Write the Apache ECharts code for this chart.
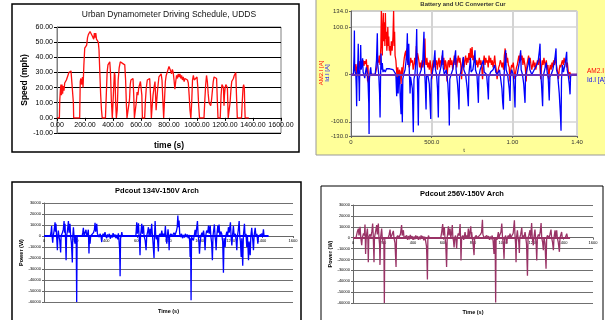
<!DOCTYPE html>
<html><head><meta charset="utf-8">
<script src="https://cdn.jsdelivr.net/npm/echarts@6/dist/echarts.min.js"></script>
<style>html,body{margin:0;padding:0;background:#fff}#c{width:605px;height:320px}</style>
</head><body><div id="c"></div>
<script>
// ---- Chart 1: UDDS speed profile [time s, speed mph]
const speedProfile = [[0,0],[17,0],[20,12],[24,18],[28,22],[32,15],[36,22],[40,16],[45,21],[50,18],[55,23],[60,24],[67,25],[72,25],[78,28],[85,30],[92,30],[100,31],[107,32],[112,30],[114,32],[117,10],[119,0],[162,0],[166,24],[170,26],[175,22],[182,27],[186,20],[192,35],[198,46],[205,47],[212,48],[218,53],[224,55],[230,56],[236,57],[241,56],[246,57],[252,54],[258,55],[262,52],[267,56],[272,53],[277,56],[282,52],[288,51],[295,50],[300,45],[306,30],[312,15],[318,5],[323,0],[346,0],[352,15],[358,30],[364,35],[370,36],[377,37],[382,30],[388,12],[395,0],[400,0],[405,20],[410,30],[414,28],[419,10],[424,0],[430,5],[437,25],[444,33],[452,37],[460,36],[468,36],[476,36],[484,35],[490,25],[496,8],[500,0],[512,0],[518,12],[523,22],[528,25],[536,24],[543,26],[548,15],[553,0],[560,0],[566,10],[572,17],[578,15],[584,20],[590,19],[596,24],[602,25],[606,15],[610,0],[626,0],[632,12],[638,20],[645,25],[652,26],[662,26],[668,15],[674,0],[680,8],[686,15],[693,20],[700,24],[704,15],[708,5],[713,12],[720,20],[728,27],[736,28],[744,29],[750,25],[756,12],[762,0],[768,12],[774,24],[780,28],[786,27],[792,29],[800,34],[806,33],[812,31],[818,29],[824,32],[830,30],[836,25],[842,19],[848,24],[854,28],[860,26],[866,29],[872,27],[878,29],[884,26],[890,28],[896,25],[902,27],[908,24],[914,26],[920,25],[926,27],[932,25],[938,23],[944,15],[950,5],[956,0],[962,10],[968,25],[974,28],[980,25],[986,26],[993,24],[1000,27],[1006,20],[1012,8],[1018,0],[1050,0],[1056,12],[1062,22],[1068,28],[1074,24],[1080,16],[1086,10],[1092,9],[1098,8],[1104,12],[1110,18],[1116,24],[1122,27],[1128,28],[1134,26],[1140,26],[1145,12],[1150,0],[1166,0],[1172,15],[1178,22],[1184,21],[1189,20],[1193,8],[1196,15],[1201,20],[1206,22],[1212,21],[1217,20],[1220,10],[1223,0],[1230,0],[1236,10],[1242,18],[1248,24],[1254,25],[1260,26],[1266,28],[1272,29],[1277,30],[1282,15],[1288,0],[1318,0],[1324,12],[1329,20],[1333,22],[1338,20],[1341,8],[1344,0],[1370,0]];

// ---- Chart 2: converter currents [time s, A]
const am2Current = [[0,0],[15,0],[18,10],[22,20],[26,8],[30,22],[35,-5],[40,18],[45,25],[50,12],[55,28],[60,15],[65,25],[70,20],[75,30],[80,18],[85,28],[90,22],[95,32],[100,30],[103,-15],[105,20],[108,-18],[112,0],[150,0],[160,15],[165,30],[170,25],[175,40],[180,20],[185,60],[188,134],[191,80],[194,40],[197,100],[200,130],[203,70],[206,110],[210,60],[213,130],[216,75],[219,90],[222,50],[225,70],[228,100],[231,60],[234,80],[237,50],[240,60],[245,40],[250,70],[255,50],[260,80],[264,134],[267,60],[270,90],[273,40],[278,30],[282,10],[286,-10],[290,15],[295,-15],[300,10],[305,5],[310,-20],[315,15],[320,0],[325,20],[330,35],[335,45],[340,50],[343,30],[346,55],[350,25],[355,30],[360,15],[365,20],[370,35],[375,25],[380,30],[385,10],[390,20],[395,35],[400,20],[405,60],[408,30],[412,45],[415,40],[420,30],[425,15],[430,25],[435,10],[440,30],[445,15],[450,25],[455,50],[458,76],[461,30],[465,20],[470,35],[475,15],[480,25],[485,10],[490,30],[495,15],[500,-10],[505,20],[510,30],[515,15],[520,35],[525,20],[530,30],[535,10],[540,25],[545,35],[550,15],[555,30],[560,25],[565,40],[570,20],[575,35],[580,10],[585,30],[590,20],[595,-15],[600,25],[605,30],[610,15],[615,35],[620,20],[625,30],[630,10],[635,25],[640,40],[645,20],[650,35],[655,15],[660,30],[665,40],[670,25],[675,35],[680,20],[685,-10],[690,25],[695,35],[700,15],[705,30],[710,40],[715,20],[720,35],[725,25],[730,45],[735,30],[740,55],[745,35],[750,58],[755,30],[760,40],[765,25],[770,35],[775,20],[780,30],[785,15],[790,25],[795,35],[800,20],[805,30],[810,15],[815,-10],[820,25],[825,40],[830,20],[835,35],[840,25],[845,30],[850,15],[855,40],[860,25],[865,35],[870,20],[875,30],[880,15],[885,25],[890,40],[895,20],[900,10],[905,-10],[910,5],[915,15],[920,20],[925,30],[930,25],[935,15],[940,25],[945,10],[950,40],[955,55],[958,30],[962,45],[966,25],[970,35],[975,20],[980,15],[985,-15],[990,10],[995,20],[1000,15],[1005,25],[1010,10],[1015,-10],[1020,5],[1025,15],[1030,20],[1035,30],[1040,40],[1045,25],[1050,45],[1055,30],[1060,40],[1065,20],[1070,35],[1075,25],[1080,15],[1085,-15],[1090,20],[1095,30],[1100,40],[1105,25],[1110,35],[1115,20],[1120,10],[1125,20],[1130,30],[1135,15],[1140,25],[1145,10],[1150,20],[1155,30],[1160,20],[1165,35],[1170,25],[1175,-10],[1180,15],[1185,30],[1190,20],[1195,35],[1200,25],[1205,15],[1210,30],[1215,10],[1220,20],[1225,-10],[1230,10],[1235,20],[1240,10],[1245,25],[1250,15],[1255,30],[1260,20],[1265,35],[1270,25],[1275,15],[1280,5],[1285,-10],[1290,10],[1295,20],[1300,15],[1305,25],[1310,30],[1315,20],[1320,35],[1325,25],[1330,30],[1335,15],[1340,25],[1345,10],[1350,-10],[1355,5],[1360,0],[1400,0]];
const idCurrent = [[0,0],[15,0],[19,40],[21,93],[23,10],[30,0],[33,-30],[35,-67],[37,-5],[42,20],[45,65],[47,5],[50,-20],[52,-56],[54,0],[58,30],[60,62],[63,10],[68,20],[72,34],[75,5],[80,0],[85,-8],[87,-11],[90,5],[95,15],[100,5],[105,-10],[110,-60],[112,-126],[114,-10],[118,5],[122,15],[126,0],[150,0],[158,30],[163,87],[166,20],[172,0],[177,-40],[180,-91],[183,-10],[186,44],[189,10],[194,24],[198,5],[205,10],[212,5],[220,12],[230,8],[240,12],[250,8],[260,10],[270,5],[278,0],[283,-46],[286,-5],[292,-40],[295,-5],[300,0],[305,-50],[310,-84],[313,-20],[318,-101],[321,-10],[326,0],[335,10],[345,40],[349,87],[352,20],[358,65],[361,10],[366,-40],[369,-5],[380,-30],[386,-122],[390,-10],[396,0],[402,30],[407,96],[410,10],[414,-50],[417,-108],[420,-10],[425,0],[435,10],[445,30],[452,90],[455,15],[460,-20],[465,-74],[468,-5],[475,0],[485,-20],[494,-94],[497,-10],[505,5],[512,20],[520,51],[523,10],[530,0],[536,-30],[541,-91],[544,-5],[550,5],[560,20],[568,51],[571,15],[578,0],[590,10],[600,-20],[606,-60],[609,-108],[612,-10],[620,0],[630,10],[640,30],[648,51],[651,10],[660,-20],[666,-50],[669,-74],[672,-5],[680,5],[690,20],[696,37],[699,10],[710,0],[720,-30],[727,-67],[730,0],[736,20],[740,35],[744,5],[755,10],[763,30],[768,51],[771,10],[780,0],[785,-30],[789,-60],[792,-5],[800,10],[810,20],[820,30],[825,5],[840,0],[847,-30],[851,-53],[854,-5],[865,5],[880,10],[890,20],[897,5],[905,0],[920,10],[935,-30],[940,-60],[944,-74],[947,-10],[952,20],[958,51],[961,10],[970,0],[980,-30],[985,-56],[988,-5],[995,10],[1005,0],[1012,-40],[1016,-70],[1019,-5],[1030,0],[1040,20],[1047,35],[1051,51],[1054,10],[1062,0],[1070,-20],[1078,-60],[1081,-5],[1090,10],[1100,25],[1104,35],[1108,10],[1120,0],[1135,10],[1150,20],[1160,30],[1167,50],[1171,65],[1174,10],[1180,-20],[1187,-67],[1190,-5],[1200,10],[1210,25],[1215,5],[1222,-10],[1228,-55],[1232,-5],[1240,0],[1250,10],[1262,30],[1270,55],[1273,10],[1280,0],[1290,-40],[1298,-90],[1301,-119],[1304,-10],[1310,20],[1316,5],[1325,20],[1333,40],[1336,48],[1339,10],[1345,0],[1352,-20],[1357,-42],[1360,-5],[1365,0],[1400,0]];
const currentXTicks = [0, 500, 1000, 1400];
const currentXTickLabels = ['0', '500.0', '1.00', '1.40'];
const currentYTicks = [-130, -100, 0, 100, 134];
const currentYTickLabels = ['-130.0', '-100.0', '0', '100.0', '134.0'];

// ---- Chart 3: Pdcout 134V-150V [time s, W]
const pdcout134 = [[0,0],[40,0],[45,3000],[49,9000],[52,0],[56,-6000],[59,0],[64,4000],[71,12500],[74,4000],[77,11000],[81,0],[86,-13000],[89,0],[92,5000],[96,0],[101,-4000],[107,-15000],[110,0],[118,3000],[124,6000],[129,13500],[132,3000],[135,11000],[138,0],[142,-22000],[145,0],[150,4000],[157,13500],[161,3000],[167,11000],[171,0],[176,-6000],[182,-24000],[185,0],[189,8000],[193,0],[199,-7000],[203,0],[207,-5000],[210,-60000],[213,0],[245,0],[249,3000],[253,7500],[257,0],[263,3000],[270,5700],[274,0],[280,2000],[285,5700],[289,-16000],[292,0],[296,-7000],[300,0],[310,0],[318,3000],[324,6000],[328,12000],[332,4000],[339,11000],[343,2000],[350,3500],[355,-1000],[360,2000],[366,0],[371,-5500],[375,0],[380,2000],[386,0],[392,3500],[397,0],[403,-2000],[408,1500],[414,-1000],[420,2000],[426,-2500],[432,1000],[438,-1500],[444,2500],[450,-1000],[456,1500],[462,-2000],[468,1000],[474,-3000],[478,2500],[482,-4000],[486,-12000],[489,-36500],[492,-2000],[496,0],[500,3500],[504,0],[590,0],[593,6000],[596,12500],[600,2000],[607,11500],[611,0],[614,-6000],[617,-17500],[620,0],[624,5000],[628,11000],[632,2000],[639,9500],[643,0],[650,-4000],[656,-13000],[660,0],[666,4000],[671,8000],[675,0],[682,6500],[686,0],[692,11000],[696,2000],[700,-5000],[707,-20000],[710,0],[714,13500],[718,0],[722,-3000],[728,0],[735,-14000],[738,0],[745,2000],[751,0],[757,5000],[762,0],[768,2000],[775,0],[780,9000],[784,0],[789,-7000],[793,0],[797,6000],[801,0],[804,-13000],[807,0],[815,2000],[825,0],[835,3000],[842,1000],[850,4000],[856,8000],[860,18500],[864,8000],[868,14000],[872,2000],[878,-1000],[884,2000],[890,-2000],[896,1000],[902,-1500],[908,2000],[914,-1000],[920,1500],[926,-2000],[932,1000],[936,-5000],[939,-19000],[942,-2000],[945,-58500],[948,-1000],[955,0],[960,-4000],[965,0],[971,5700],[976,0],[980,6000],[986,13500],[990,2000],[995,-5000],[999,-16000],[1003,-7000],[1008,0],[1015,3000],[1020,0],[1025,5000],[1030,0],[1035,-13000],[1039,0],[1045,5000],[1052,3000],[1057,9500],[1062,2000],[1068,9500],[1072,0],[1077,-6000],[1082,-22000],[1086,0],[1090,5000],[1095,10500],[1099,0],[1103,-5000],[1106,-13000],[1110,0],[1117,9500],[1121,3000],[1125,10500],[1130,0],[1136,4000],[1142,2000],[1148,-5000],[1153,-33500],[1157,-2000],[1164,-10000],[1168,0],[1175,4000],[1180,0],[1185,8000],[1190,3000],[1198,12500],[1202,0],[1207,-8500],[1211,0],[1217,9000],[1222,0],[1230,2000],[1235,-5000],[1239,-13000],[1243,0],[1248,5000],[1254,13500],[1258,0],[1262,-5000],[1267,-19000],[1271,-2000],[1277,-27000],[1281,0],[1288,11000],[1292,0],[1298,2000],[1303,-10000],[1307,0],[1310,-8000],[1314,-22000],[1318,-5000],[1325,-17500],[1329,0],[1335,7500],[1339,0],[1342,-5000],[1346,-13000],[1350,0],[1357,7500],[1362,0],[1368,2000],[1374,-7000],[1378,0],[1390,0],[1400,2000],[1405,0],[1410,6000],[1414,0],[1442,0]];

// ---- Chart 4: Pdcout 256V-150V [time s, W]
const pdcout256 = [[0,0],[20,0],[25,3000],[30,6000],[36,8300],[40,2000],[47,10000],[52,0],[58,-7000],[62,0],[70,4000],[76,2000],[80,12000],[82,0],[84,-15000],[88,0],[96,8300],[99,0],[102,-22500],[105,0],[112,3000],[120,1000],[126,6000],[131,13000],[135,2000],[140,-22500],[143,0],[150,5000],[158,11500],[162,3000],[169,13000],[173,0],[177,-6000],[180,-25000],[184,0],[191,8300],[195,0],[200,-4000],[206,-6000],[209,-60000],[212,0],[235,0],[241,3000],[247,7400],[251,0],[258,2000],[264,1000],[269,6200],[273,0],[280,-5000],[287,-27000],[290,0],[298,2000],[305,0],[316,3000],[324,11500],[328,2000],[336,6800],[340,0],[346,1500],[352,-1000],[358,2000],[364,-2000],[370,1500],[376,-1500],[382,2500],[388,-1000],[394,1500],[400,-2000],[406,1000],[412,-1500],[418,2000],[424,-1000],[430,1500],[436,-2000],[442,1000],[448,-1500],[454,2000],[460,-1000],[466,1500],[472,-2500],[478,1000],[484,-3000],[490,-8000],[493,-20000],[496,-38500],[499,-2000],[503,2000],[508,0],[585,0],[590,4000],[598,12500],[602,2000],[609,9800],[613,0],[618,-5000],[624,-27000],[628,0],[636,10500],[640,2000],[647,8300],[652,0],[657,4000],[662,11500],[666,0],[670,-3000],[674,-9000],[678,0],[684,2000],[691,-10000],[695,0],[702,4000],[708,2000],[714,12500],[717,0],[720,-21000],[724,0],[732,2000],[738,-2000],[747,5200],[752,0],[758,2000],[764,0],[769,8300],[774,0],[785,10500],[789,0],[791,5200],[795,0],[800,-5000],[807,-16000],[811,0],[820,2000],[830,0],[840,1500],[850,3000],[857,5000],[863,16500],[866,3000],[869,3700],[873,0],[880,1500],[886,-1500],[892,2000],[898,-1000],[904,1500],[910,-2000],[916,1000],[922,-1500],[928,2000],[934,-3000],[940,-15000],[944,0],[948,-8000],[951,-59500],[954,0],[960,-2000],[969,5200],[973,0],[980,3000],[986,5000],[992,13000],[996,2000],[1002,-6000],[1007,-19500],[1011,0],[1018,2000],[1025,-5500],[1029,0],[1035,2000],[1040,0],[1047,3700],[1052,0],[1060,2000],[1068,4000],[1076,16000],[1080,2000],[1084,-6000],[1087,-22500],[1090,0],[1096,6800],[1100,0],[1105,-4000],[1109,-14000],[1112,0],[1118,3000],[1125,9200],[1129,0],[1135,2000],[1140,0],[1147,5200],[1152,0],[1157,-6000],[1163,-35000],[1167,0],[1172,2000],[1180,6800],[1184,0],[1191,13500],[1195,0],[1202,-7000],[1206,0],[1213,7400],[1217,0],[1221,-6000],[1225,-21000],[1229,0],[1236,3000],[1242,1000],[1248,5000],[1254,13500],[1258,0],[1264,-4000],[1269,-11500],[1273,0],[1280,-5000],[1287,-28500],[1291,0],[1296,2000],[1302,3700],[1307,0],[1313,3000],[1320,7400],[1324,0],[1330,-4000],[1336,-11500],[1340,0],[1347,6800],[1351,0],[1358,6800],[1362,0],[1368,-4000],[1376,-13000],[1380,0],[1391,5200],[1395,0],[1405,1500],[1415,0],[1425,3700],[1430,0],[1447,0]];

const F = 'Liberation Sans';
const chart = echarts.init(document.getElementById('c'), null, {renderer: 'canvas'});

// grid layout boxes (px)
const G1 = {left:57, top:27, width:224, height:106};
const G2 = {left:351, top:11, width:226, height:125};
const G3 = {left:44, top:203, width:249, height:99};
const G4 = {left:353, top:205, width:240, height:98};
// distance from grid bottom up to the value-0 line, so the time axis sits on zero
const zeroOffset = (g, min, max) => -g.height * (0 - min) / (max - min);

const frameGraphics = [
  {type:'rect', z:-10, shape:{x:12, y:4, width:287, height:148}, style:{fill:'#fff', stroke:'#000', lineWidth:1.5}},
  {type:'rect', z:-10, shape:{x:316, y:-2, width:295, height:157}, style:{fill:'#ffff99', stroke:'#999', lineWidth:1}},
  {type:'rect', z:-10, shape:{x:12, y:182, width:289, height:160}, style:{fill:'#fff', stroke:'#000', lineWidth:1.5}},
  {type:'rect', z:-10, shape:{x:321, y:186, width:282, height:160}, style:{fill:'#fff', stroke:'#000', lineWidth:1}},
  {type:'text', x:321, y:73, rotation:Math.PI/2, style:{text:'AM2.I [A]', fill:'#ff0000', font:'6px ' + F, align:'center', verticalAlign:'middle'}},
  {type:'text', x:327, y:73, rotation:Math.PI/2, style:{text:'Id.I [A]', fill:'#0000ff', font:'6px ' + F, align:'center', verticalAlign:'middle'}}
];

const plain = v => String(v);
const tinyAxis = (min, max, interval) => ({
  min, max, interval,
  axisLine:{show:true, onZero:false, lineStyle:{color:'#666', width:1}},
  axisTick:{show:true, length:2, lineStyle:{color:'#666'}},
  axisLabel:{fontSize:4, color:'#000', fontFamily:F, margin:3, formatter:plain},
  splitLine:{show:false}
});
const gridOpts = {outerBoundsMode:'none', containLabel:false};

const option = {
  animation:false,
  backgroundColor:'#fff',
  graphic: frameGraphics,
  title:[
    {text:'Urban Dynamometer Driving Schedule, UDDS', left:169, top:10, padding:0, textAlign:'center', textStyle:{fontSize:8.5, fontWeight:'normal', color:'#111', fontFamily:F}},
    {text:'Battery and UC Converter Cur', left:463, top:1, padding:0, textAlign:'center', textStyle:{fontSize:6, fontWeight:'bold', color:'#333', fontFamily:F}},
    {text:'Pdcout 134V-150V Arch', left:157, top:187, padding:0, textAlign:'center', textStyle:{fontSize:7.5, fontWeight:'bold', color:'#000', fontFamily:F}},
    {text:'Pdcout 256V-150V Arch', left:462, top:190, padding:0, textAlign:'center', textStyle:{fontSize:7.5, fontWeight:'bold', color:'#000', fontFamily:F}}
  ],
  legend:{
    left:581, top:68, orient:'vertical', itemWidth:0, itemHeight:0, itemGap:2, padding:0,
    textStyle:{fontSize:6.5, fontFamily:F},
    data:[{name:'AM2.I [A]', textStyle:{color:'#ff0000'}}, {name:'Id.I [A]', textStyle:{color:'#0000ff'}}]
  },
  grid:[
    Object.assign({}, G1, gridOpts, {show:true, backgroundColor:'#fff', borderColor:'#808080', borderWidth:1}),
    Object.assign({}, G2, gridOpts, {show:true, backgroundColor:'#fff', borderColor:'#808080', borderWidth:1}),
    Object.assign({}, G3, gridOpts),
    Object.assign({}, G4, gridOpts)
  ],
  xAxis:[
    {gridIndex:0, type:'value', min:0, max:1600, interval:200, offset:zeroOffset(G1, -10, 60),
     name:'time (s)', nameLocation:'middle', nameGap:23, nameTextStyle:{fontSize:8.5, fontWeight:'bold', color:'#000', fontFamily:F},
     axisLine:{onZero:false, lineStyle:{color:'#000', width:1}},
     axisTick:{length:3, lineStyle:{color:'#000'}},
     axisLabel:{fontSize:7, color:'#000', fontFamily:F, margin:4, formatter:v=>v.toFixed(2)},
     splitLine:{show:false}},
    {gridIndex:1, type:'value', min:0, max:1400, interval:500,
     name:'t', nameLocation:'middle', nameGap:11, nameTextStyle:{fontSize:6, color:'#333', fontFamily:F},
     axisLine:{onZero:false, lineStyle:{color:'#666'}},
     axisTick:{length:2, customValues:currentXTicks, lineStyle:{color:'#666'}},
     axisLabel:{fontSize:6, color:'#333', fontFamily:F, margin:3, customValues:currentXTicks,
       formatter:v=>currentXTickLabels[currentXTicks.indexOf(v)]},
     splitLine:{show:true, lineStyle:{color:'#d4d4d4', width:2}}},
    Object.assign(tinyAxis(0,1600,200), {gridIndex:2, offset:zeroOffset(G3, -60000, 30000), name:'Time (s)', nameLocation:'middle', nameGap:72,
      nameTextStyle:{fontSize:5.5, fontWeight:'bold', color:'#000', fontFamily:F}}),
    Object.assign(tinyAxis(0,1600,200), {gridIndex:3, offset:zeroOffset(G4, -60000, 30000), name:'Time (s)', nameLocation:'middle', nameGap:72,
      nameTextStyle:{fontSize:5.5, fontWeight:'bold', color:'#000', fontFamily:F}})
  ],
  yAxis:[
    {gridIndex:0, type:'value', min:-10, max:60, interval:10,
     name:'Speed (mph)', nameLocation:'middle', nameGap:27, nameTextStyle:{fontSize:8.5, fontWeight:'bold', color:'#000', fontFamily:F},
     axisLine:{show:true, onZero:false, lineStyle:{color:'#808080'}},
     axisTick:{show:true, length:3, lineStyle:{color:'#000'}},
     axisLabel:{fontSize:7, color:'#000', fontFamily:F, margin:4, formatter:v=>v.toFixed(2)},
     splitLine:{show:true, lineStyle:{color:'#000', width:1}}},
    {gridIndex:1, type:'value', min:-130, max:134,
     axisLine:{show:true, onZero:false, lineStyle:{color:'#666'}},
     axisTick:{show:true, length:2, customValues:currentYTicks, lineStyle:{color:'#666'}},
     axisLabel:{fontSize:6, color:'#333', fontFamily:F, margin:3, customValues:currentYTicks,
       formatter:v=>currentYTickLabels[currentYTicks.indexOf(v)]},
     splitLine:{show:true, lineStyle:{color:'#d4d4d4', width:1.5}}},
    Object.assign(tinyAxis(-60000,30000,10000), {gridIndex:2, name:'Power (W)', nameLocation:'middle', nameGap:20,
      nameTextStyle:{fontSize:5.5, fontWeight:'bold', color:'#000', fontFamily:F},
      splitLine:{show:true, lineStyle:{color:'#707070', width:1}}}),
    Object.assign(tinyAxis(-60000,30000,10000), {gridIndex:3, name:'Power (W)', nameLocation:'middle', nameGap:20,
      nameTextStyle:{fontSize:5.5, fontWeight:'bold', color:'#000', fontFamily:F},
      splitLine:{show:true, lineStyle:{color:'#707070', width:1}}})
  ],
  series:[
    {name:'Speed', type:'line', xAxisIndex:0, yAxisIndex:0, data:speedProfile, showSymbol:false,
     lineStyle:{color:'#ff1010', width:1.3}, itemStyle:{color:'#ff1010'}},
    {name:'AM2.I [A]', type:'line', xAxisIndex:1, yAxisIndex:1, data:am2Current, showSymbol:false,
     lineStyle:{color:'#ff0000', width:1.3}, itemStyle:{color:'#ff0000'}},
    {name:'Id.I [A]', type:'line', xAxisIndex:1, yAxisIndex:1, data:idCurrent, showSymbol:false,
     lineStyle:{color:'#0000ff', width:1.3}, itemStyle:{color:'#0000ff'},
     markLine:{silent:true, symbol:'none', label:{show:false}, lineStyle:{color:'#6a2fb8', width:2, type:'solid'}, data:[{yAxis:0}]}},
    {name:'Pdcout 134V', type:'line', xAxisIndex:2, yAxisIndex:2, data:pdcout134, showSymbol:false,
     lineStyle:{color:'#0000ff', width:1.3}, itemStyle:{color:'#0000ff'},
     markLine:{silent:true, symbol:'none', label:{show:false}, lineStyle:{color:'#0000ff', width:2.2, type:'solid'}, data:[[{coord:[0,0]},{coord:[1442,0]}]]}},
    {name:'Pdcout 256V', type:'line', xAxisIndex:3, yAxisIndex:3, data:pdcout256, showSymbol:false,
     lineStyle:{color:'#993366', width:1.3}, itemStyle:{color:'#993366'},
     markLine:{silent:true, symbol:'none', label:{show:false}, lineStyle:{color:'#993366', width:2.2, type:'solid'}, data:[[{coord:[0,0]},{coord:[1447,0]}]]}}
  ]
};
chart.setOption(option);
</script>
</body></html>
